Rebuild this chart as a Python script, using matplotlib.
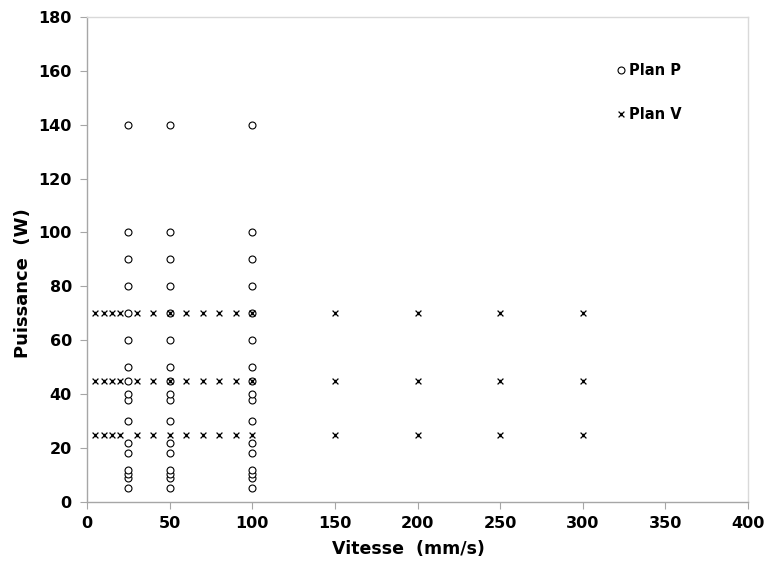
import matplotlib
matplotlib.use("Agg")
import matplotlib.pyplot as plt
from matplotlib.path import Path

# Plan P: speeds x powers (full grid)
p_speeds = [25, 50, 100]
p_powers = [5, 9, 10.5, 12, 18, 22, 30, 38, 40, 45, 50, 60, 70, 80, 90, 100, 140]

# Plan V: speeds x powers
v_speeds = [5, 10, 15, 20, 30, 40, 50, 60, 70, 80, 90, 100, 150, 200, 250, 300]
v_powers = [25, 45, 70]

xticks = [0, 50, 100, 150, 200, 250, 300, 350, 400]
yticks = [0, 20, 40, 60, 80, 100, 120, 140, 160, 180]

px = [s for s in p_speeds for p in p_powers]
py = [p for s in p_speeds for p in p_powers]
vx = [s for s in v_speeds for p in v_powers]
vy = [p for s in v_speeds for p in v_powers]

star = Path([(-1, -1), (1, 1), (-1, 1), (1, -1), (0, -0.6), (0, 0.6)],
            [Path.MOVETO, Path.LINETO, Path.MOVETO, Path.LINETO, Path.MOVETO, Path.LINETO])

plt.rcParams['font.family'] = ['DejaVu Sans']
fig = plt.figure(figsize=(7.64, 5.64), dpi=100)
ax = fig.add_axes([0.114, 0.110, 0.865, 0.860])

ax.plot(px, py, linestyle='none', marker='o', markersize=5.0, markerfacecolor='white',
        markeredgecolor='black', markeredgewidth=0.8, label='Plan P')
ax.plot(vx, vy, linestyle='none', marker=star, markersize=4.2, markerfacecolor='none',
        markeredgecolor='black', markeredgewidth=0.9, label='Plan V')

ax.set_xlim(0, 400)
ax.set_ylim(0, 180)
ax.set_xticks(xticks)
ax.set_yticks(yticks)
ax.tick_params(axis='both', direction='out', length=5, width=0.8, color='#a6a6a6',
               labelsize=11.5)
ax.tick_params(axis='y', pad=6)
ax.tick_params(axis='x', pad=5)
for lab in ax.get_xticklabels() + ax.get_yticklabels():
    lab.set_fontweight('bold')

for side in ['top', 'right']:
    ax.spines[side].set_color('#d9d9d9')
    ax.spines[side].set_linewidth(1.0)
for side in ['left', 'bottom']:
    ax.spines[side].set_color('#a6a6a6')
    ax.spines[side].set_linewidth(1.0)

ax.set_xlabel('Vitesse  (mm/s)', fontsize=12.5, fontweight='bold')
ax.set_ylabel('Puissance  (W)', fontsize=13, fontweight='bold')
ax.xaxis.set_label_coords(0.487, -0.078)
ax.yaxis.set_label_coords(-0.083, 0.452)

ax.legend(loc='upper left', bbox_to_anchor=(0.781, 0.932), frameon=False,
          handlelength=0.6, handletextpad=0.3, labelspacing=2.0,
          prop={'weight': 'bold', 'size': 10.5})

fig.savefig('out.png', dpi=100)
